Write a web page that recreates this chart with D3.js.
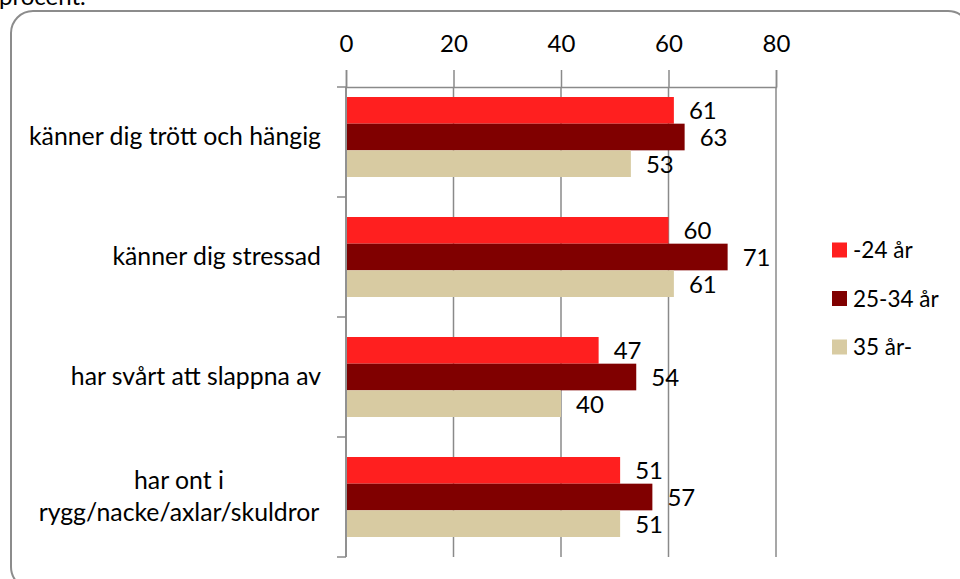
<!DOCTYPE html>
<html>
<head>
<meta charset="utf-8">
<script src="https://cdn.jsdelivr.net/npm/d3@7"></script>
<style>
  body { margin: 0; background: #fff; }
  svg { display: block; font-family: Lato, "Open Sans", sans-serif; }
</style>
</head>
<body>
<div id="chart"></div>
<script>
// data
const categories = [
  'känner dig trött och hängig',
  'känner dig stressad',
  'har svårt att slappna av',
  'har ont i\nrygg/nacke/axlar/skuldror'
]
const seriesNames = ['-24 år', '25-34 år', '35 år-']
const under24 = [61, 60, 47, 51]
const age25to34 = [63, 71, 54, 57]
const over35 = [53, 61, 40, 51]
const tickValues = [0, 20, 40, 60, 80]
const colors = ['#ff1f1f', '#800000', '#d8cba2']

const seriesValues = [under24, age25to34, over35]

const width = 960
const height = 579
const svg = d3.select('#chart').append('svg')
  .attr('width', width)
  .attr('height', height)

// cut-off title from the page above
svg.append('text')
  .attr('x', -1)
  .attr('y', 5)
  .attr('font-size', 24)
  .attr('fill', '#000')
  .text('procent.')

// rounded frame, runs off the right and bottom edges
svg.append('rect')
  .attr('x', 11)
  .attr('y', 11)
  .attr('width', 959)
  .attr('height', 578)
  .attr('rx', 22)
  .attr('fill', 'none')
  .attr('stroke', '#8c8c8c')
  .attr('stroke-width', 2)

const axisY = 87
const x = d3.scaleLinear().domain([0, 80]).range([346, 776])
const y = d3.scaleBand().domain(categories).range([77, 557]).paddingInner(0)
const ySub = d3.scaleBand().domain(seriesNames).range([0, y.bandwidth()]).paddingInner(0).paddingOuter(0.75)

const gridColor = '#8a8a8a'

// vertical gridlines
svg.append('g')
  .selectAll('line')
  .data(tickValues)
  .join('line')
  .attr('x1', d => x(d))
  .attr('x2', d => x(d))
  .attr('y1', axisY)
  .attr('y2', 557)
  .attr('stroke', gridColor)
  .attr('stroke-width', 1.5)

// top axis
const xAxis = svg.append('g')
  .attr('transform', `translate(0,${axisY})`)
  .call(d3.axisTop(x).tickValues(tickValues).tickSize(17).tickPadding(18))
xAxis.select('.domain').attr('stroke', gridColor).attr('stroke-width', 1.5)
xAxis.selectAll('.tick line').attr('stroke', gridColor).attr('stroke-width', 1.5)
xAxis.selectAll('.tick text')
  .attr('font-family', 'Lato, sans-serif')
  .attr('font-size', 24)
  .attr('fill', '#000')

// left axis line with category boundary ticks
const bounds = [axisY].concat(categories.slice(1).map(c => y(c)), [y.range()[1]])
svg.append('line')
  .attr('x1', x(0)).attr('x2', x(0))
  .attr('y1', axisY).attr('y2', 557)
  .attr('stroke', gridColor).attr('stroke-width', 1.5)
svg.append('g')
  .selectAll('line')
  .data(bounds)
  .join('line')
  .attr('x1', x(0) - 9)
  .attr('x2', x(0))
  .attr('y1', d => d)
  .attr('y2', d => d)
  .attr('stroke', gridColor)
  .attr('stroke-width', 1.5)

// bars
const groups = svg.append('g')
  .selectAll('g')
  .data(categories)
  .join('g')
  .attr('transform', d => `translate(0,${y(d)})`)

groups.selectAll('rect')
  .data((c, i) => seriesNames.map((s, k) => ({ s, k, v: seriesValues[k][i] })))
  .join('rect')
  .attr('x', x(0) + 1)
  .attr('y', d => ySub(d.s))
  .attr('width', d => x(d.v) - x(0) - 1)
  .attr('height', ySub.bandwidth())
  .attr('fill', d => colors[d.k])

// value labels
groups.selectAll('text')
  .data((c, i) => seriesNames.map((s, k) => ({ s, k, v: seriesValues[k][i] })))
  .join('text')
  .attr('x', d => x(d.v) + 15)
  .attr('y', d => ySub(d.s) + ySub.bandwidth() / 2 + 9)
  .attr('font-size', 24)
  .attr('fill', '#000')
  .text(d => d.v)

// category labels
svg.append('g')
  .selectAll('text')
  .data(categories)
  .join('text')
  .attr('font-size', 24.8)
  .attr('fill', '#000')
  .each(function (c) {
    const lines = c.split('\n')
    const t = d3.select(this)
    const mid = y(c) + y.bandwidth() / 2
    if (lines.length === 1) {
      t.attr('text-anchor', 'end').attr('x', 321).attr('y', mid + 8)
      t.text(c)
    } else {
      t.attr('text-anchor', 'middle')
      lines.forEach((l, j) => {
        t.append('tspan').attr('x', 179).attr('y', mid - 8 + j * 32).text(l)
      })
    }
  })

// legend
const legend = svg.append('g')
  .selectAll('g')
  .data(seriesNames)
  .join('g')
  .attr('transform', (d, i) => `translate(832,${250 + i * 48.5})`)
legend.append('rect')
  .attr('x', 0).attr('y', -7.5)
  .attr('width', 15).attr('height', 15)
  .attr('fill', (d, i) => colors[i])
legend.append('text')
  .attr('x', 21)
  .attr('y', 8)
  .attr('font-size', 22.5)
  .attr('fill', '#000')
  .text(d => d)
</script>
</body>
</html>
